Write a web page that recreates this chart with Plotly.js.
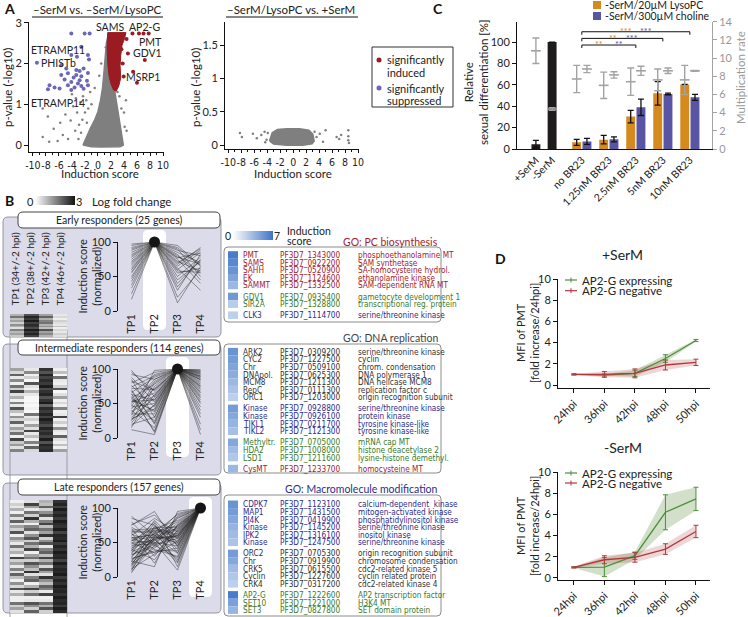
<!DOCTYPE html>
<html>
<head>
<meta charset="utf-8">
<script src="https://cdn.plot.ly/plotly-3.0.1.min.js"></script>
<style>html,body{margin:0;padding:0;background:#fff}</style>
</head>
<body>
<div id="fig" style="width:748px;height:617px"></div>
<script>
// ---------- panel A: volcano plots ----------
var volcTicks = [-10, -8, -6, -4, -2, 0, 2, 4, 6, 8, 10];
var volcTickText = ['-10', '-8', '-6', '-4', '-2', '0', '2', '4', '6', '8', '10'];

// dense grey core of the left volcano (outline)
var coreX = [-2.3, -1.8, -1.2, -0.5, 0.0, 0.4, 0.7, 0.9, 1.1, 1.3, 1.6, 1.8, 2.2, 2.6, 3.0, 3.4, 3.8, 3.9, 3.4, 2.0, 0.5, -1.0, -2.3];
var coreY = [0.0, 0.2, 0.4, 0.62, 0.82, 1.1, 1.4, 1.75, 2.1, 2.5, 2.72, 2.5, 1.9, 1.3, 0.9, 0.5, 0.2, 0.0, -0.04, -0.05, -0.05, -0.04, 0.0];
var greyOutX = [-8.5, -7.7, -8.5, -7.5, -6.8, -5.8, -5.0, -4.6, -4.2, -3.8, -3.5, -3.2, -2.9, -2.7, -3.0, -2.6, -1.8, -1.2, -0.5, -2.0, -1.5, -4.0, -3.4, -2.3, -1.0, 0.2, 0.5, 4.1, 4.4, 4.0, 3.6, 4.3, 3.3, 3.0, 2.6, 1.2, -5.4, -6.2, -2.4, -1.7];
var greyOutY = [0.90, 0.70, 0.20, 0.08, 0.40, 0.55, 0.75, 0.15, 0.60, 0.95, 0.35, 0.80, 0.50, 1.05, 0.15, 0.30, 1.10, 1.30, 1.40, 0.80, 0.90, 1.25, 1.15, 1.20, 1.0, 1.7, 2.0, 0.45, 0.35, 0.80, 0.90, 1.10, 1.20, 1.30, 2.55, 2.4, 0.25, 0.10, 0.62, 0.55];
// induced cluster (outline) and single induced genes
var redCoreX = [1.5, 4.3, 4.1, 3.7, 3.5, 3.4, 3.5, 3.2, 2.8, 2.4, 2.0, 1.7, 1.5, 1.4, 1.5];
var redCoreY = [2.76, 2.76, 2.62, 2.45, 2.2, 1.95, 1.65, 1.45, 1.32, 1.35, 1.5, 1.7, 2.0, 2.4, 2.76];
var redPtX = [4.6, 7.2, 5.4, 3.95, 6.0, 5.3, 6.3, 7.0, 7.8, 3.8, 3.6, 4.4];
var redPtY = [2.25, 2.09, 1.80, 1.68, 1.53, 2.74, 2.74, 2.74, 2.74, 2.0, 2.35, 2.6];
// suppressed genes
var blueX = [-4.10, -2.05, -1.28, -9.38, -2.56, -4.10, -3.23, -1.54, -1.38, -5.64, -4.87, -3.33, -2.82, -2.21, -5.64, -4.62, -3.33, -2.56, -1.54, -5.13, -4.10, -2.82, -1.69, -7.44, -6.67, -7.69, -5.90, -4.10, -3.59, -2.56, -1.54, -3.08, -4.62, -2.21, -3.74];
var blueY = [2.74, 2.74, 2.74, 2.02, 2.41, 2.21, 2.17, 2.21, 2.10, 1.96, 1.88, 1.84, 1.82, 1.88, 1.72, 1.76, 1.72, 1.69, 1.77, 1.61, 1.55, 1.59, 1.58, 1.47, 1.41, 1.37, 1.39, 1.35, 1.41, 1.45, 1.47, 1.51, 1.47, 1.38, 1.66];
// right volcano: dense band (outline) and outliers
var bandX = [-3.6, -3.2, -2.4, -1.0, 1.0, 2.4, 3.0, 3.2, 2.9, 1.5, -1.0, -3.0, -3.6];
var bandY = [0.06, 0.18, 0.23, 0.24, 0.24, 0.22, 0.16, 0.06, 0.02, 0.0, 0.0, 0.02, 0.06];
var b2OutX = [-8.2, -7.9, -6.2, -5.6, -4.9, -4.4, -4.1, 3.3, 3.6, 4.1, 4.6, 5.0, 6.7, 7.1, 7.4, 8.5, 8.5, 8.5, 8.6, -3.9, -4.3];
var b2OutY = [0.18, 0.12, 0.17, 0.10, 0.15, 0.20, 0.08, 0.20, 0.12, 0.17, 0.05, 0.22, 0.12, 0.09, 0.15, 0.22, 0.13, 0.07, 0.03, 0.18, 0.04];

// ---------- panel C ----------
var cLabels = ['+SerM', '-SerM', 'no BR23', '1.25nM BR23', '2.5nM BR23', '5nM BR23', '10nM BR23'];
var ctrlDiff = [4.5, 100];
var ctrlDiffErr = [3.5, 0];
var ctrlMult = [10.8, 4.4];
var ctrlMultErr = [1.4, 0.15];
var lysoDiff = [6.2, 8.7, 30.3, 52, 60.4];
var lysoErr = [2.8, 4.0, 5.8, 11, 0];
var cholDiff = [7.1, 9.0, 39, 51.5, 48.3];
var cholErr = [2.8, 2.3, 7.7, 0.8, 2.8];
var lysoMult = [7.7, 7.0, 7.4, 7.6, 7.6];
var lysoMultErr = [1.5, 1.45, 1.5, 1.2, 1.6];
var cholMult = [8.8, 8.15, 8.6, 8.6, 8.6];
var cholMultErr = [0.4, 0.35, 0.5, 0.3, 0.05];
var sigEnd = [4, 5, 6];
var sigLyso = ['**', '**', '***'];
var sigChol = ['**', '***', '***'];

// ---------- panel D ----------
var hpi = ['24hpi', '36hpi', '42hpi', '48hpi', '50hpi'];
var plusPos = [1, 0.94, 1.1, 2.5, 4.2];
var plusPosErr = [0.05, 0.1, 0.3, 0.36, 0.1];
var plusNeg = [1, 1.0, 1.1, 1.89, 2.14];
var plusNegErr = [0.05, 0.27, 0.42, 0.47, 0.3];
var minusPos = [1, 1.03, 2.1, 6.2, 7.46];
var minusPosErr = [0.05, 0.9, 0.35, 1.65, 1.1];
var minusNeg = [1, 1.72, 1.94, 2.73, 4.39];
var minusNegErr = [0.05, 0.38, 0.45, 0.5, 0.58];

// ---------- panel B ----------
var tpLabels = ['TP1', 'TP2', 'TP3', 'TP4'];
var tpHeads = ['TP1 (34+/-2 hpi)', 'TP2 (38+/-2 hpi)', 'TP3 (42+/-2 hpi)', 'TP4 (46+/-2 hpi)'];
var PEAK = 100;
var earlyTP1 = [97, 95, 92, 90, 88, 85, 82, 80, 78, 75, 72, 70, 68, 65, 62, 60, 57, 55, 50, 47, 43, 38, 33, 25, 17];
var earlyTP3 = [85, 20, 70, 92, 60, 80, 35, 75, 88, 55, 65, 90, 45, 78, 30, 82, 68, 72, 50, 95, 62, 40, 77, 58, 12];
var earlyTP4 = [70, 60, 90, 65, 85, 55, 75, 40, 80, 62, 88, 50, 72, 68, 82, 45, 92, 58, 78, 66, 30, 74, 84, 56, 64];
var interTP1 = [98, 92, 85, 80, 76, 72, 70, 66, 63, 60, 58, 55, 52, 50, 48, 45, 42, 40, 38, 35, 33, 30, 28, 25, 22, 20, 18, 15, 12, 95, 88, 74, 68, 57, 47, 37, 27, 82, 64, 53];
var interTP2 = [60, 85, 30, 95, 45, 70, 20, 88, 55, 10, 78, 40, 65, 92, 25, 50, 82, 15, 72, 35, 98, 58, 42, 80, 62, 30, 48, 75, 5, 68, 52, 90, 22, 38, 85, 62, 47, 70, 8, 55];
var interTP4 = [90, 75, 95, 60, 85, 40, 98, 70, 80, 55, 92, 65, 88, 20, 78, 96, 50, 72, 85, 35, 90, 68, 94, 45, 82, 58, 99, 76, 30, 87, 62, 93, 12, 74, 84, 52, 97, 66, 89, 5];
var lateTP1 = [88, 85, 80, 76, 72, 70, 68, 65, 62, 60, 58, 56, 54, 52, 50, 48, 46, 44, 42, 40, 38, 36, 34, 32, 30, 28, 26, 24, 22, 20, 18, 16, 14, 12, 10, 8, 6, 75, 64, 57, 49, 41, 33, 27, 19, 66, 53, 38, 23, 11];
var lateTP2 = [60, 75, 45, 90, 55, 30, 70, 65, 50, 85, 40, 62, 58, 72, 35, 80, 48, 68, 55, 25, 63, 52, 78, 44, 60, 70, 38, 57, 66, 50, 42, 74, 59, 33, 64, 46, 55, 95, 20, 61, 53, 71, 47, 36, 58, 67, 49, 82, 15, 56];
var lateTP3 = [70, 40, 85, 55, 20, 75, 60, 90, 45, 65, 30, 80, 50, 72, 62, 35, 88, 57, 25, 68, 48, 78, 15, 66, 53, 82, 38, 59, 74, 10, 64, 46, 92, 52, 70, 28, 58, 44, 76, 34, 86, 62, 56, 42, 68, 22, 73, 50, 95, 60];

// log fold change heatmaps, one row per gene block, columns TP1..TP4
var hmEarly = [[1.0, 2.2, 1.2, 0.3], [1.8, 2.8, 2.0, 0.5], [0.8, 2.5, 1.0, 0.2], [1.2, 2.9, 1.6, 0.6], [0.6, 2.4, 1.8, 0.4], [1.4, 2.7, 1.0, 0.3], [1.0, 2.6, 1.4, 0.8], [0.4, 2.3, 0.8, 0.2], [1.6, 2.9, 2.2, 0.5], [0.9, 2.5, 1.2, 0.3], [1.2, 2.8, 1.5, 0.6], [0.7, 2.4, 1.0, 0.4]];
var hmInter = [[1.2, 0.3, 2.6, 0.2], [0.5, 1.5, 2.2, 0.8], [2.0, 0.2, 2.8, 0.1], [0.3, 0.6, 2.4, 1.8], [1.5, 0.1, 2.7, 0.3], [0.2, 2.2, 2.5, 0.2], [1.8, 0.4, 2.9, 0.6], [0.6, 0.2, 2.3, 2.2], [2.4, 1.0, 2.6, 0.1], [0.4, 0.3, 2.8, 0.4], [1.0, 0.1, 2.2, 1.2], [0.2, 0.1, 2.6, 0.2], [1.6, 0.2, 2.9, 0.5], [0.3, 0.1, 2.0, 0.2], [2.2, 0.2, 2.7, 1.6], [0.8, 0.1, 2.5, 0.2], [0.2, 1.8, 2.8, 0.3], [1.4, 0.3, 2.4, 2.4], [0.5, 0.6, 2.9, 0.2], [2.0, 0.2, 2.6, 0.6], [0.3, 1.2, 2.3, 0.2], [1.2, 0.4, 2.8, 1.4], [0.6, 2.4, 2.5, 0.3], [1.8, 0.3, 2.7, 0.2], [0.2, 0.8, 2.4, 2.0], [2.4, 0.2, 2.9, 0.4], [0.7, 1.6, 2.2, 0.2], [1.3, 0.3, 2.8, 0.8], [0.4, 2.0, 2.6, 0.2], [1.6, 0.5, 2.7, 1.2]];
var hmLate = [[0.2, 0.4, 1.0, 2.6], [0.6, 2.4, 0.8, 2.8], [0.3, 1.2, 2.0, 2.4], [1.0, 0.3, 0.6, 2.9], [0.2, 1.8, 1.4, 2.6], [1.6, 0.6, 2.2, 2.8], [0.4, 2.6, 0.4, 2.5], [2.0, 1.0, 1.6, 2.9], [0.3, 0.2, 2.4, 2.7], [1.2, 1.6, 0.8, 2.6], [0.6, 2.0, 1.8, 2.9], [2.2, 0.4, 1.2, 2.4], [0.2, 1.4, 2.6, 2.8], [1.4, 2.2, 0.6, 2.7], [0.8, 0.6, 1.4, 2.9], [0.3, 1.8, 2.2, 2.5], [1.8, 1.0, 0.3, 2.8], [0.5, 2.4, 1.6, 2.6], [1.0, 0.2, 2.0, 2.9], [0.2, 1.2, 0.8, 2.7], [2.4, 1.8, 2.4, 2.8], [0.6, 0.6, 1.0, 2.4], [1.2, 2.2, 1.8, 2.9], [0.3, 1.4, 0.5, 2.6], [1.6, 0.8, 2.2, 2.8], [0.4, 2.6, 1.2, 2.7], [2.0, 0.4, 0.4, 2.9], [0.8, 1.6, 2.6, 2.5], [0.2, 2.0, 1.4, 2.8], [1.4, 0.2, 0.8, 2.6], [0.5, 1.0, 2.0, 2.9], [2.2, 2.4, 1.6, 2.7], [0.3, 0.6, 0.3, 2.8], [1.0, 1.8, 2.4, 2.6], [0.2, 0.2, 0.2, 2.9], [0.2, 0.3, 0.3, 2.7], [1.8, 2.2, 1.8, 2.8], [0.6, 1.4, 1.0, 2.5], [1.2, 0.6, 2.2, 2.9], [0.4, 2.0, 0.6, 2.7]];

// gene lists
var pcGenes = ['PMT', 'SAMS', 'SAHH', 'EK', 'SAMMT', 'GDV1', 'SIR2A', 'CLK3'];
var pcIds = ['PF3D7_1343000', 'PF3D7_0922200', 'PF3D7_0520900', 'PF3D7_1124600', 'PF3D7_1332500', 'PF3D7_0935400', 'PF3D7_1328800', 'PF3D7_1114700'];
var pcDesc = ['phosphoethanolamine MT', 'SAM synthetase', 'SA-homocysteine hydrol.', 'ethanolamine kinase', 'SAM-dependent RNA MT', 'gametocyte development 1', 'transcriptional reg. protein', 'serine/threonine kinase'];
var pcScore = [6.6, 6.0, 5.4, 4.6, 3.6, 5.2, 2.6, 2.4];
var pcGroup = [0, 0, 0, 0, 0, 1, 1, 2];

var dnaGenes = ['ARK2', 'CYC2', 'Chr', 'DNApol.', 'MCM8', 'RepC', 'ORC1', 'Kinase', 'Kinase', 'TIKL1', 'TIKL2', 'Methyltr.', 'HDA2', 'LSD1', 'CysMT'];
var dnaIds = ['PF3D7_0309200', 'PF3D7_1227500', 'PF3D7_0509100', 'PF3D7_0625300', 'PF3D7_1211300', 'PF3D7_0111300', 'PF3D7_1203000', 'PF3D7_0928800', 'PF3D7_0926100', 'PF3D7_0211700', 'PF3D7_1121300', 'PF3D7_0705000', 'PF3D7_1008000', 'PF3D7_1211600', 'PF3D7_1233700'];
var dnaDesc = ['serine/threonine kinase', 'cyclin', 'chrom. condensation', 'DNA polymerase 1', 'DNA helicase MCM8', 'replication factor c', 'origin recognition subunit', 'serine/threonine kinase', 'protein kinase', 'tyrosine kinase-like', 'tyrosine kinase-like', 'mRNA cap MT', 'histone deacetylase 2', 'lysine-histone demethyl.', 'homocysteine MT'];
var dnaScore = [5.4, 5.0, 4.6, 4.2, 3.6, 3.0, 2.4, 5.0, 4.4, 3.8, 3.2, 4.4, 3.4, 2.8, 3.6];
var dnaGroup = [0, 0, 0, 0, 0, 0, 0, 1, 1, 1, 1, 2, 2, 2, 3];

var modGenes = ['CDPK7', 'MAP1', 'PI4K', 'Kinase', 'IPK2', 'Kinase', 'ORC2', 'Chr', 'CRK5', 'Cyclin', 'CRK4', 'AP2-G', 'SET10', 'SET3'];
var modIds = ['PF3D7_1123100', 'PF3D7_1431500', 'PF3D7_0419900', 'PF3D7_1145200', 'PF3D7_1316100', 'PF3D7_1247500', 'PF3D7_0705300', 'PF3D7_0919900', 'PF3D7_0615500', 'PF3D7_1227600', 'PF3D7_0317200', 'PF3D7_1222600', 'PF3D7_1221000', 'PF3D7_0827800'];
var modDesc = ['calcium-dependent  kinase', 'mitogen-activated kinase', 'phosphatidylinositol kinase', 'serine/threonine kinase', 'inositol kinase', 'serine/threonine kinase', 'origin recognition subunit', 'chromosome condensation', 'cdc2-related kinase 5', 'cyclin related protein', 'cdc2-related kinase 4', 'AP2 transcription factor', 'H3K4 MT', 'SET domain protein'];
var modScore = [5.4, 5.0, 4.4, 3.8, 3.4, 3.0, 5.0, 4.4, 3.4, 2.8, 2.4, 6.6, 4.8, 3.8];
var modGroup = [0, 0, 0, 0, 0, 0, 1, 1, 1, 1, 1, 2, 2, 2];

// ---------- layout helpers (pixel -> paper) ----------
var W = 748, H = 617;
function fx(x) { return x / W; }
function fy(y) { return 1 - y / H; }
function domX(a, b) { return [a / W, b / W]; }
function domY(top, bottom) { return [1 - bottom / H, 1 - top / H]; }

var FONT = 'Lato, "Noto Sans", sans-serif';
var NARROW = '"Liberation Sans Narrow", "DejaVu Sans Condensed", Lato, sans-serif';
var GREY = '#7f7f7f', RED = '#9b1b22', BLUE = '#6b66b8';
var ORANGE = '#d6891d', PURPLE = '#5a54a4', MULT = '#a3a3a3';
var GREEN_D = '#4d8f3c', RED_D = '#b0383d';
var TXT_RED = '#a3222b', TXT_GREEN = '#3b7a2c', TXT_BLUE = '#2c2c8c', TXT_GREY = '#333333';
var LAVENDER = '#dcdbe9';

function baseAxis(extra) {
  var a = {showgrid: false, zeroline: false, showline: true, linecolor: '#111', linewidth: 1,
    ticks: 'outside', ticklen: 4, tickwidth: 1, tickcolor: '#111',
    tickfont: {size: 11, color: '#222'}, fixedrange: true};
  for (var k in extra) a[k] = extra[k];
  return a;
}
function hiddenAxis(extra) {
  var a = {visible: false, fixedrange: true, showgrid: false, zeroline: false};
  for (var k in extra) a[k] = extra[k];
  return a;
}

var traces = [];

// ---- A left
traces.push({type: 'scatter', mode: 'lines', x: coreX, y: coreY, fill: 'toself', fillcolor: GREY,
  line: {color: GREY, width: 1.5}, xaxis: 'x', yaxis: 'y'});
traces.push({type: 'scatter', mode: 'markers', x: greyOutX, y: greyOutY,
  marker: {color: GREY, size: 2.5}, xaxis: 'x', yaxis: 'y'});
traces.push({type: 'scatter', mode: 'lines', x: redCoreX, y: redCoreY, fill: 'toself', fillcolor: RED,
  line: {color: RED, width: 1}, xaxis: 'x', yaxis: 'y'});
traces.push({type: 'scatter', mode: 'markers', x: redPtX, y: redPtY,
  marker: {color: RED, size: 4}, xaxis: 'x', yaxis: 'y', cliponaxis: false});
traces.push({type: 'scatter', mode: 'markers', x: blueX, y: blueY,
  marker: {color: BLUE, size: 4}, xaxis: 'x', yaxis: 'y'});
// ---- A right
traces.push({type: 'scatter', mode: 'lines', x: bandX, y: bandY, fill: 'toself', fillcolor: GREY,
  line: {color: GREY, width: 2}, xaxis: 'x2', yaxis: 'y2'});
traces.push({type: 'scatter', mode: 'markers', x: b2OutX, y: b2OutY,
  marker: {color: GREY, size: 2.5}, xaxis: 'x2', yaxis: 'y2'});

// ---- C
var slotX = [0, 0.6, 1.7, 2.7, 3.7, 4.7, 5.7];
var OFF = 0.19;
var grpX = slotX.slice(2);
var lysoX = grpX.map(function (v) { return v - OFF; });
var cholX = grpX.map(function (v) { return v + OFF; });
function errSpec(arr, color) {
  return {type: 'data', array: arr, color: color, thickness: 1.3, width: 3};
}
traces.push({type: 'bar', x: slotX.slice(0, 2), y: ctrlDiff, width: 0.33, marker: {color: '#1d1b1b'},
  error_y: errSpec(ctrlDiffErr, '#111'), xaxis: 'x3', yaxis: 'y3'});
traces.push({type: 'bar', x: lysoX, y: lysoDiff, width: 0.33, marker: {color: ORANGE},
  error_y: errSpec(lysoErr, '#111'), xaxis: 'x3', yaxis: 'y3'});
traces.push({type: 'bar', x: cholX, y: cholDiff, width: 0.33, marker: {color: PURPLE},
  error_y: errSpec(cholErr, '#111'), xaxis: 'x3', yaxis: 'y3'});
function multTrace(xs, ys, es) {
  return {type: 'scatter', mode: 'markers', x: xs, y: ys,
    marker: {symbol: 'line-ew', size: 7, color: MULT, line: {color: MULT, width: 1.6}},
    error_y: {type: 'data', array: es, color: MULT, thickness: 1.4, width: 3.5},
    xaxis: 'x3', yaxis: 'y4', cliponaxis: false};
}
traces.push(multTrace(slotX.slice(0, 2), ctrlMult, ctrlMultErr));
traces.push(multTrace(lysoX, lysoMult, lysoMultErr));
traces.push(multTrace(cholX, cholMult, cholMultErr));
// significance brackets
var brX = [], brY = [], starAnn = [];
sigEnd.forEach(function (end, k) {
  var lvl = 97.2 + k * 6.2;
  var s = slotX[2], e = slotX[end];
  brX.push(s, s, e, e, null);
  brY.push(lvl - 2.8, lvl, lvl, lvl - 2.8, null);
  var mid = (s + e) / 2;
  starAnn.push({xref: 'x3', yref: 'y3', x: mid - 0.36, y: lvl + 0.3, text: sigLyso[k], showarrow: false,
    font: {size: 9, color: ORANGE, family: FONT}, xanchor: 'center', yanchor: 'middle', borderpad: 0});
  starAnn.push({xref: 'x3', yref: 'y3', x: mid + 0.36, y: lvl + 0.3, text: sigChol[k], showarrow: false,
    font: {size: 9, color: PURPLE, family: FONT}, xanchor: 'center', yanchor: 'middle', borderpad: 0});
});
traces.push({type: 'scatter', mode: 'lines', x: brX, y: brY, line: {color: '#111', width: 1},
  xaxis: 'x3', yaxis: 'y3', cliponaxis: false});

// ---- D
function bandTrace(vals, errs, color, xa, ya) {
  var up = vals.map(function (v, i) { return v + errs[i]; });
  var lo = vals.map(function (v, i) { return v - errs[i]; }).reverse();
  return {type: 'scatter', mode: 'lines', x: hpi.concat(hpi.slice().reverse()), y: up.concat(lo),
    fill: 'toself', fillcolor: color, line: {width: 0}, xaxis: xa, yaxis: ya};
}
function meanTrace(vals, errs, color, xa, ya) {
  return {type: 'scatter', mode: 'lines', x: hpi, y: vals, line: {color: color, width: 1.3},
    error_y: {type: 'data', array: errs, color: color, thickness: 1, width: 2.5},
    xaxis: xa, yaxis: ya, cliponaxis: false};
}
traces.push(bandTrace(plusPos, plusPosErr, 'rgba(92,140,60,0.28)', 'x5', 'y5'));
traces.push(bandTrace(plusNeg, plusNegErr, 'rgba(176,70,70,0.22)', 'x5', 'y5'));
traces.push(meanTrace(plusPos, plusPosErr, GREEN_D, 'x5', 'y5'));
traces.push(meanTrace(plusNeg, plusNegErr, RED_D, 'x5', 'y5'));
traces.push(bandTrace(minusPos, minusPosErr, 'rgba(92,140,60,0.28)', 'x6', 'y6'));
traces.push(bandTrace(minusNeg, minusNegErr, 'rgba(176,70,70,0.22)', 'x6', 'y6'));
traces.push(meanTrace(minusPos, minusPosErr, GREEN_D, 'x6', 'y6'));
traces.push(meanTrace(minusNeg, minusNegErr, RED_D, 'x6', 'y6'));

// ---- B heatmaps
var greyScale = [[0, '#ffffff'], [1, '#141414']];
traces.push({type: 'heatmap', z: hmEarly, colorscale: greyScale, zmin: 0, zmax: 3, xaxis: 'x7', yaxis: 'y7',
  showscale: true,
  colorbar: {orientation: 'h', x: fx(55), xanchor: 'center', y: fy(196), yanchor: 'top', len: 40, lenmode: 'pixels',
    thickness: 9, outlinewidth: 0, showticklabels: false, ticks: '', xpad: 0, ypad: 0}});
traces.push({type: 'heatmap', z: hmInter, colorscale: greyScale, zmin: 0, zmax: 3, xaxis: 'x8', yaxis: 'y8', showscale: false});
traces.push({type: 'heatmap', z: hmLate, colorscale: greyScale, zmin: 0, zmax: 3, xaxis: 'x9', yaxis: 'y9', showscale: false});

// ---- B profile lines
function profile(cols, xa, ya, peakIdx) {
  var xs = [], ys = [], n = cols[0] ? cols[0].length : cols[1].length;
  for (var i = 0; i < n; i++) {
    for (var j = 0; j < 4; j++) { xs.push(tpLabels[j]); ys.push(cols[j] ? cols[j][i] : PEAK); }
    xs.push(null); ys.push(null);
  }
  traces.push({type: 'scatter', mode: 'lines', x: xs, y: ys, line: {color: 'rgba(35,35,35,0.75)', width: 0.6},
    xaxis: xa, yaxis: ya, cliponaxis: false});
  traces.push({type: 'scatter', mode: 'markers', x: [tpLabels[peakIdx]], y: [PEAK],
    marker: {color: '#151515', size: 11}, xaxis: xa, yaxis: ya, cliponaxis: false});
}
profile([earlyTP1, null, earlyTP3, earlyTP4], 'x10', 'y10', 1);
profile([interTP1, interTP2, null, interTP4], 'x11', 'y11', 2);
profile([lateTP1, lateTP2, lateTP3, null], 'x12', 'y12', 3);

// ---- gene lists (rows laid out in pixel units on y13)
var ROW = 7.6, GAP = 3.5;
function rowYs(start, groups) { return groups.map(function (g, i) { return start + i * ROW + g * GAP; }); }
var pcY = rowYs(255, pcGroup), dnaY = rowYs(351.7, dnaGroup), modY = rowYs(504.3, modGroup);
var allY = pcY.concat(dnaY, modY);
var allScore = pcScore.concat(dnaScore, modScore);
traces.push({type: 'bar', orientation: 'h', y: allY, x: allY.map(function () { return 1; }), base: 0, width: ROW,
  marker: {color: allScore, cmin: 0, cmax: 7, colorscale: [[0, '#ffffff'], [1, '#3d74c7']], line: {width: 0},
    showscale: true,
    colorbar: {orientation: 'h', x: fx(253), xanchor: 'center', y: fy(230.5), yanchor: 'top', len: 40, lenmode: 'pixels',
      thickness: 9, outlinewidth: 0, showticklabels: false, ticks: '', xpad: 0, ypad: 0}},
  xaxis: 'x13', yaxis: 'y13'});

// ---------- annotations ----------
var ann = [];
function note(x, y, text, size, color, opts) {
  var a = {xref: 'paper', yref: 'paper', x: fx(x), y: fy(y), text: text, showarrow: false,
    xanchor: 'center', yanchor: 'middle', borderpad: 0,
    font: {family: FONT, size: size, color: color || '#222'}};
  if (opts) for (var k in opts) a[k] = opts[k];
  ann.push(a);
}
// A
note(9, 8, '<b>A</b>', 14, '#111');
note(97, 9, '\u2013SerM vs. \u2013SerM/LysoPC', 11.5);
note(291, 9, '\u2013SerM/LysoPC vs. +SerM', 11.5);
note(100, 174, 'Induction score', 11.5);
note(293, 174, 'Induction score', 11.5);
note(7, 88, 'p-value (-log10)', 11.5, '#222', {textangle: -90});
note(195, 88, 'p-value (-log10)', 11.5, '#222', {textangle: -90});
note(110, 27, 'SAMS', 10.5);
note(144, 27, 'AP2-G', 10.5);
note(150, 42, 'PMT', 10.5);
note(147, 53, 'GDV1', 10.5);
note(143, 77, 'MSRP1', 10.5);
note(58, 50, 'ETRAMP11', 10.5);
note(58, 63, 'PHISTb', 10.5);
note(58, 103, 'ETRAMP14', 10.5);
note(386, 60, 'significantly', 11, '#222', {xanchor: 'left'});
note(386, 72, 'induced', 11, '#222', {xanchor: 'left'});
note(386, 88, 'significantly', 11, '#222', {xanchor: 'left'});
note(386, 100, 'suppressed', 11, '#222', {xanchor: 'left'});
// C
note(438, 8, '<b>C</b>', 14, '#111');
note(604, 5, '-SerM/20\u00b5M LysoPC', 10.5, '#222', {xanchor: 'left'});
note(604, 16, '-SerM/300\u00b5M choline', 10.5, '#222', {xanchor: 'left'});
note(476, 82, 'Relative<br>sexual differentiation [%]', 11.5, '#222', {textangle: -90});
note(741, 78, 'Multiplication rate', 11.5, '#999', {textangle: -90});
ann = ann.concat(starAnn);
// D
note(500, 258, '<b>D</b>', 14, '#111');
note(622, 254, '+SerM', 14);
note(623, 447, '-SerM', 14);
note(581, 280, 'AP2-G expressing', 11.5, '#222', {xanchor: 'left'});
note(581, 290.7, 'AP2-G negative', 11.5, '#222', {xanchor: 'left'});
note(581, 473, 'AP2-G expressing', 11.5, '#222', {xanchor: 'left'});
note(581, 483, 'AP2-G negative', 11.5, '#222', {xanchor: 'left'});
note(527, 333, 'MFI of PMT<br>[fold increase/24hpi]', 11, '#222', {textangle: -90});
note(527, 526, 'MFI of PMT<br>[fold increase/24hpi]', 11, '#222', {textangle: -90});
// B
note(9, 200, '<b>B</b>', 14, '#111');
note(30, 201, '0', 11);
note(79, 201, '3', 11);
note(91, 201, 'Log fold change', 11.5, '#222', {xanchor: 'left'});
note(119, 220, 'Early responders (25 genes)', 10.5);
note(119, 347.5, 'Intermediate responders (114 genes)', 10.5);
note(119, 487, 'Late responders (157 genes)', 10.5);
tpHeads.forEach(function (t, i) { note(15 + i * 15, 268.5, t, 10, '#222', {textangle: -90}); });
note(89, 276.5, 'Induction score<br>(normalized)', 11, '#222', {textangle: -90});
note(89, 403.5, 'Induction score<br>(normalized)', 11, '#222', {textangle: -90});
note(89, 542.5, 'Induction score<br>(normalized)', 11, '#222', {textangle: -90});
note(228, 236, '0', 10.5);
note(277, 236, '7', 10.5);
note(286, 231, 'Induction', 10.5, '#222', {xanchor: 'left'});
note(286, 241, 'score', 10.5, '#222', {xanchor: 'left'});
note(439, 242, 'GO: PC biosynthesis', 10.5, TXT_RED, {xanchor: 'right'});
note(439, 338, 'GO: DNA replication', 10.5, '#444', {xanchor: 'right'});
note(439, 489, 'GO: Macromolecule modification', 10.5, TXT_BLUE, {xanchor: 'right'});
function geneText(ys, names, ids, descs, groups, colors) {
  names.forEach(function (n, i) {
    var c = colors[groups[i]];
    var f = {family: NARROW, size: 8.2, color: c};
    note(242, ys[i], n, 8.2, c, {xanchor: 'left', font: f});
    note(279, ys[i], ids[i], 8.2, c, {xanchor: 'left', font: f});
    note(357, ys[i], descs[i], 8.2, c, {xanchor: 'left', font: f});
  });
}
geneText(pcY, pcGenes, pcIds, pcDesc, pcGroup, [TXT_RED, TXT_GREEN, TXT_BLUE]);
geneText(dnaY, dnaGenes, dnaIds, dnaDesc, dnaGroup, [TXT_GREY, TXT_BLUE, TXT_GREEN, TXT_RED]);
geneText(modY, modGenes, modIds, modDesc, modGroup, [TXT_BLUE, TXT_GREY, TXT_GREEN]);

// ---------- background shapes ----------
function roundRect(x0, y0, x1, y1, r) {
  function P(x, y) { return fx(x) + ',' + fy(y); }
  return 'M' + P(x0 + r, y0) + ' L' + P(x1 - r, y0) + ' Q' + P(x1, y0) + ' ' + P(x1, y0 + r) +
    ' L' + P(x1, y1 - r) + ' Q' + P(x1, y1) + ' ' + P(x1 - r, y1) +
    ' L' + P(x0 + r, y1) + ' Q' + P(x0, y1) + ' ' + P(x0, y1 - r) +
    ' L' + P(x0, y0 + r) + ' Q' + P(x0, y0) + ' ' + P(x0 + r, y0) + ' Z';
}
function pathShape(x0, y0, x1, y1, r, fill, lineColor, lw) {
  return {type: 'path', xref: 'paper', yref: 'paper', path: roundRect(x0, y0, x1, y1, r),
    fillcolor: fill, line: {color: lineColor || 'rgba(0,0,0,0)', width: lw || 0}, layer: 'below'};
}
function lineShape(x0, y0, x1, y1, color, w, layer) {
  return {type: 'line', xref: 'paper', yref: 'paper', x0: fx(x0), y0: fy(y0), x1: fx(x1), y1: fy(y1),
    line: {color: color, width: w}, layer: layer || 'below'};
}
var shapes = [];
// B panels
shapes.push(pathShape(3, 217, 221, 337, 5, LAVENDER, '#80808c', 0.8));
shapes.push(pathShape(3, 344, 221, 475, 5, LAVENDER, '#80808c', 0.8));
shapes.push(pathShape(3, 483, 221, 613, 5, LAVENDER, '#80808c', 0.8));
shapes.push(pathShape(143, 230, 166, 330, 5, '#ffffff'));
shapes.push(pathShape(166, 357, 189, 457, 5, '#ffffff'));
shapes.push(pathShape(189, 497, 212, 597, 5, '#ffffff'));
shapes.push(lineShape(10, 330, 10, 617, '#8a8a96', 0.8));
shapes.push(lineShape(67, 330, 67, 617, '#8a8a96', 0.8));
shapes.push(pathShape(18, 212, 220, 228, 5, '#ffffff', '#444', 1));
shapes.push(pathShape(18, 340, 220, 355, 5, '#ffffff', '#444', 1));
shapes.push(pathShape(18, 479, 220, 495, 5, '#ffffff', '#444', 1));
// gene list boxes
shapes.push(pathShape(224, 247, 441, 322, 4, '#ffffff', '#8c8c8c', 1));
shapes.push(pathShape(224, 344, 441, 473, 4, '#ffffff', '#8c8c8c', 1));
shapes.push(pathShape(224, 495, 441, 616, 4, '#ffffff', '#8c8c8c', 1));
// A title rules and legend
shapes.push(lineShape(32, 17, 163, 17, '#111', 1.2));
shapes.push(lineShape(226, 17, 358, 17, '#111', 1.2));
shapes.push({type: 'rect', xref: 'paper', yref: 'paper', x0: fx(372), x1: fx(453), y0: fy(47), y1: fy(107),
  line: {color: '#333', width: 1}, fillcolor: '#ffffff', layer: 'below'});
shapes.push({type: 'circle', xref: 'paper', yref: 'paper', x0: fx(376.5), x1: fx(381.5), y0: fy(57.5), y1: fy(62.5),
  line: {width: 0}, fillcolor: RED, layer: 'above'});
shapes.push({type: 'circle', xref: 'paper', yref: 'paper', x0: fx(376.5), x1: fx(381.5), y0: fy(85.5), y1: fy(90.5),
  line: {width: 0}, fillcolor: BLUE, layer: 'above'});
// C legend swatches
shapes.push({type: 'rect', xref: 'paper', yref: 'paper', x0: fx(593), x1: fx(601), y0: fy(1), y1: fy(9),
  line: {width: 0}, fillcolor: ORANGE, layer: 'above'});
shapes.push({type: 'rect', xref: 'paper', yref: 'paper', x0: fx(593), x1: fx(601), y0: fy(12), y1: fy(20),
  line: {width: 0}, fillcolor: PURPLE, layer: 'above'});
// D legend symbols
[[280, GREEN_D], [290.7, RED_D], [473, GREEN_D], [483, RED_D]].forEach(function (s) {
  shapes.push(lineShape(565, s[0], 577, s[0], s[1], 1.2, 'above'));
  shapes.push(lineShape(571, s[0] - 2.5, 571, s[0] + 2.5, s[1], 1, 'above'));
});

// ---------- axes ----------
var volcMinor = {dtick: 1, ticks: 'outside', ticklen: 2, tickcolor: '#111'};
var volcTickFont = {family: NARROW, size: 10.5, color: '#222'};
var layout = {
  width: W, height: H, autosize: false,
  margin: {l: 0, r: 0, t: 0, b: 0},
  paper_bgcolor: '#ffffff', plot_bgcolor: 'rgba(0,0,0,0)',
  font: {family: FONT, size: 11, color: '#222'},
  showlegend: false, hovermode: false, barmode: 'overlay',
  xaxis: baseAxis({domain: domX(29, 164), range: [-10.6, 10.15], tickmode: 'array', tickvals: volcTicks, ticktext: volcTickText,
    tickangle: 0, ticklen: 3, tickfont: volcTickFont, anchor: 'y', minor: volcMinor}),
  yaxis: baseAxis({domain: domY(22, 152), range: [-0.17, 3.02], tickmode: 'array', tickvals: [0, 1, 2, 3], anchor: 'x'}),
  xaxis2: baseAxis({domain: domX(225, 359), range: [-10.5, 10.15], tickmode: 'array', tickvals: volcTicks, ticktext: volcTickText,
    tickangle: 0, ticklen: 3, tickfont: volcTickFont, anchor: 'y2', minor: volcMinor}),
  yaxis2: baseAxis({domain: domY(21.7, 149), range: [-0.06, 1.85], tickmode: 'array', tickvals: [0, 0.5, 1, 1.5], ticktext: ['0', '0.5', '1', '1.5'], anchor: 'x2'}),
  xaxis3: baseAxis({domain: domX(517, 712), range: [-0.7, 6.52], tickmode: 'array', tickvals: slotX, ticktext: cLabels,
    tickangle: -45, ticks: '', tickfont: {size: 10.5, color: '#222'}, anchor: 'y3'}),
  yaxis3: baseAxis({domain: domY(21.7, 149), range: [0, 119], tickmode: 'array', tickvals: [0, 20, 40, 60, 80, 100], anchor: 'x3'}),
  yaxis4: baseAxis({overlaying: 'y3', side: 'right', anchor: 'x3', range: [0, 14], tickmode: 'array', tickvals: [0, 2, 4, 6, 8, 10, 12, 14],
    linecolor: MULT, tickcolor: MULT, tickfont: {size: 11, color: '#999'}}),
  xaxis5: baseAxis({domain: domX(558, 710), type: 'category', categoryarray: hpi, range: [-0.52, 4.46], tickangle: -45, anchor: 'y5'}),
  yaxis5: baseAxis({domain: domY(279, 388), range: [-0.28, 10], tickmode: 'array', tickvals: [0, 2, 4, 6, 8, 10], anchor: 'x5'}),
  xaxis6: baseAxis({domain: domX(558, 710), type: 'category', categoryarray: hpi, range: [-0.52, 4.46], tickangle: -45, anchor: 'y6'}),
  yaxis6: baseAxis({domain: domY(472, 580), range: [-0.19, 10], tickmode: 'array', tickvals: [0, 2, 4, 6, 8, 10], anchor: 'x6'}),
  xaxis7: hiddenAxis({domain: domX(10, 67), anchor: 'y7'}),
  yaxis7: hiddenAxis({domain: domY(314, 337), autorange: 'reversed', anchor: 'x7'}),
  xaxis8: hiddenAxis({domain: domX(10, 67), anchor: 'y8'}),
  yaxis8: hiddenAxis({domain: domY(368, 452), autorange: 'reversed', anchor: 'x8'}),
  xaxis9: hiddenAxis({domain: domX(10, 67), anchor: 'y9'}),
  yaxis9: hiddenAxis({domain: domY(500, 613), autorange: 'reversed', anchor: 'x9'}),
  xaxis13: hiddenAxis({domain: domX(228, 238), range: [0, 1], anchor: 'y13'}),
  yaxis13: hiddenAxis({domain: [0, 1], range: [H, 0], anchor: 'x13'}),
  shapes: shapes,
  annotations: ann
};
[['10', 242, 311], ['11', 369, 438], ['12', 508, 577]].forEach(function (p) {
  layout['xaxis' + p[0]] = baseAxis({domain: domX(118, 210), type: 'category', categoryarray: tpLabels, range: [-0.587, 3.413],
    showline: false, ticks: '', tickangle: -90, anchor: 'y' + p[0]});
  layout['yaxis' + p[0]] = baseAxis({domain: domY(p[1], p[2]), range: [0, 100], tickmode: 'array', tickvals: [0, 50, 100], anchor: 'x' + p[0]});
});

Plotly.newPlot('fig', traces, layout, {staticPlot: true, displayModeBar: false});
</script>
</body>
</html>
